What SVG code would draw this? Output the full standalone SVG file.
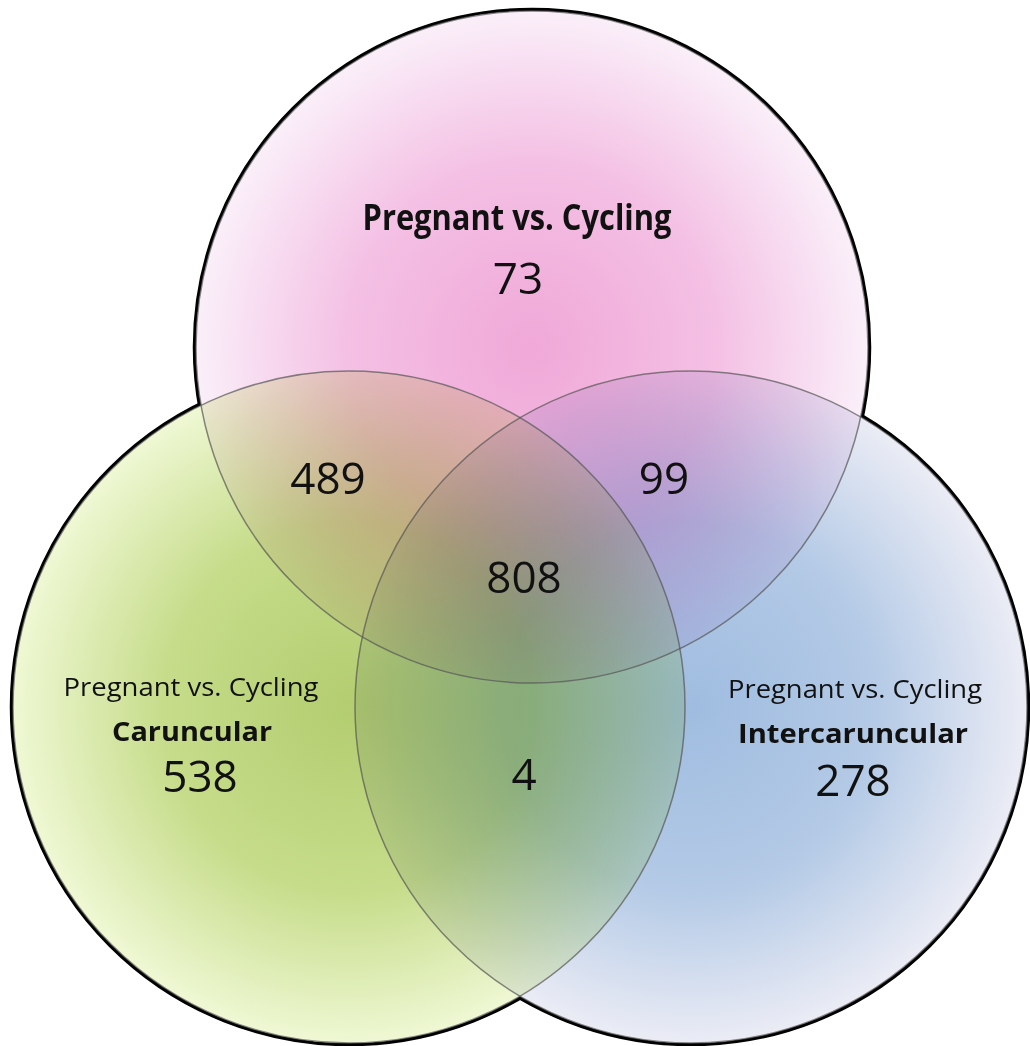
<svg xmlns="http://www.w3.org/2000/svg" width="1030" height="1046" viewBox="0 0 1030 1046">
  <style>
    .outline { fill: none; stroke: #000; stroke-width: 6.5; }
    .base { fill: #fff; stroke: none; }
    .set { stroke: none; mix-blend-mode: multiply; }
    .inner { fill: none; stroke: #555; stroke-opacity: 0.7; stroke-width: 1.5; }
    .num { font-family: "Open Sans", "Noto Sans", sans-serif; font-size: 44px; fill: #111; text-anchor: middle; }
    .lab { font-family: "Open Sans", "Noto Sans", sans-serif; font-size: 25px; fill: #111; text-anchor: middle; }
    .labb { font-family: "Open Sans", "Noto Sans", sans-serif; font-size: 27px; font-weight: bold; fill: #111; text-anchor: middle; }
    .title { font-family: "Open Sans", "Noto Sans", sans-serif; font-size: 35px; font-weight: bold; fill: #111; text-anchor: middle; }
  </style>
  <defs>
    <radialGradient id="gPink" cx="0.5" cy="0.5" r="0.5">
      <stop offset="0" stop-color="#f0a8d8"/>
      <stop offset="0.55" stop-color="#f4c0e4"/>
      <stop offset="1" stop-color="#faeff9"/>
    </radialGradient>
    <radialGradient id="gGreen" cx="0.5" cy="0.5" r="0.5">
      <stop offset="0" stop-color="#b3cd70"/>
      <stop offset="0.55" stop-color="#c6dc8a"/>
      <stop offset="1" stop-color="#eff8d4"/>
    </radialGradient>
    <radialGradient id="gBlue" cx="0.5" cy="0.5" r="0.5">
      <stop offset="0" stop-color="#9fbce0"/>
      <stop offset="0.55" stop-color="#b4cae6"/>
      <stop offset="1" stop-color="#ebecf5"/>
    </radialGradient>
  </defs>

  <rect width="1030" height="1046" fill="#fff"/>

  <g id="connectors">
    <circle class="outline" cx="532" cy="347" r="336"/>
    <circle class="outline" cx="349" cy="707" r="336"/>
    <circle class="outline" cx="691" cy="707" r="336"/>
    <circle class="base" cx="532" cy="347" r="336"/>
    <circle class="base" cx="349" cy="707" r="336"/>
    <circle class="base" cx="691" cy="707" r="336"/>
  </g>

  <g id="sets" style="isolation:isolate">
    <circle id="set-pink" class="set" cx="532" cy="347" r="336" fill="url(#gPink)"/>
    <circle id="set-green" class="set" cx="349" cy="707" r="336" fill="url(#gGreen)"/>
    <circle id="set-blue" class="set" cx="691" cy="707" r="336" fill="url(#gBlue)"/>
  </g>

  <g id="inner-lines">
    <circle class="inner" cx="532" cy="347" r="336"/>
    <circle class="inner" cx="349" cy="707" r="336"/>
    <circle class="inner" cx="691" cy="707" r="336"/>
  </g>

  <g id="node-top">
    <text class="title" x="517" y="230" textLength="309" lengthAdjust="spacingAndGlyphs">Pregnant vs. Cycling</text>
    <text class="num" x="518" y="294">73</text>
  </g>
  <g id="node-left">
    <text class="lab" x="191" y="696" textLength="255" lengthAdjust="spacingAndGlyphs">Pregnant vs. Cycling</text>
    <text class="labb" x="192" y="741" textLength="160" lengthAdjust="spacingAndGlyphs">Caruncular</text>
    <text class="num" x="200" y="792">538</text>
  </g>
  <g id="node-right">
    <text class="lab" x="855" y="698" textLength="254" lengthAdjust="spacingAndGlyphs">Pregnant vs. Cycling</text>
    <text class="labb" x="853" y="743" textLength="230" lengthAdjust="spacingAndGlyphs">Intercaruncular</text>
    <text class="num" x="853" y="796">278</text>
  </g>
  <g id="node-top-left">
    <text class="num" x="328" y="494">489</text>
  </g>
  <g id="node-top-right">
    <text class="num" x="664" y="494">99</text>
  </g>
  <g id="node-center">
    <text class="num" x="524" y="593">808</text>
  </g>
  <g id="node-bottom">
    <text class="num" x="524" y="790">4</text>
  </g>
</svg>
